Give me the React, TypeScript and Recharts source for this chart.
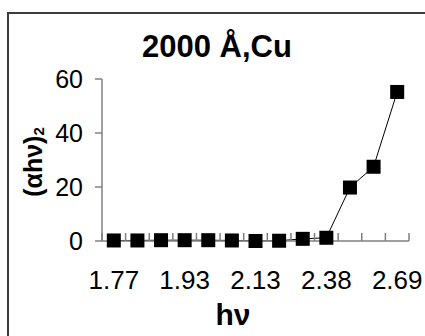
import React from 'react';
import { LineChart, Line, XAxis, YAxis, Label } from 'recharts';

// photon energy categories (eV), one per measured wavelength
const hvLabels = ['1.77', '1.82', '1.87', '1.93', '2.00', '2.06', '2.13', '2.21', '2.29', '2.38', '2.48', '2.58', '2.69'];
// (alpha * h * nu)^2
const alphaHvSq = [0.2, 0.2, 0.3, 0.3, 0.3, 0.2, 0.0, 0.1, 0.8, 1.2, 19.8, 27.5, 55.2];
const yTicks = [0, 20, 40, 60];
const shownLabels = ['1.77', '1.93', '2.13', '2.38', '2.69'];

const CHART_W = 425;
const CHART_H = 322;
const MARGIN = { top: 65, right: 25, bottom: 25, left: 0 };
const Y_AXIS_W = 93;
const X_AXIS_H = 70;
const PLOT_W = CHART_W - MARGIN.left - MARGIN.right - Y_AXIS_W;
const HALF_BAND = PLOT_W / hvLabels.length / 2;
const AXIS_GREY = '#808080';
const FONT = 'Arial, "Liberation Sans", sans-serif';

const data = hvLabels.map((hv, i) => ({ hv, value: alphaHvSq[i] }));

const SquareDot = (props: any) => {
  const { cx, cy, index } = props;
  if (cx == null || cy == null) return <g key={index} />;
  return <rect key={index} x={cx - 7} y={cy - 7} width={14} height={14} fill="#000" />;
};

// Excel style: tick marks sit between categories, labels on every third one
const CategoryTick = (props: any) => {
  const { x, y, payload } = props;
  const idx = payload?.index ?? props.index;
  const isLast = idx === hvLabels.length - 1;
  return (
    <g>
      <line x1={x - HALF_BAND} x2={x - HALF_BAND} y1={y} y2={y - 8} stroke={AXIS_GREY} strokeWidth={1.5} />
      {isLast && (
        <line x1={x + HALF_BAND} x2={x + HALF_BAND} y1={y} y2={y - 8} stroke={AXIS_GREY} strokeWidth={1.5} />
      )}
      {shownLabels.includes(payload.value) && (
        <text x={x} y={y + 48} textAnchor="middle" fontSize={26} fill="#000" fontFamily={FONT}>
          {payload.value}
        </text>
      )}
    </g>
  );
};

const YTitle = () => (
  <text
    x={33}
    y={148}
    transform="rotate(-90, 33, 148)"
    textAnchor="middle"
    fontFamily={FONT}
    fontWeight="bold"
    fontSize={25}
    fill="#000"
  >
    (αhν)<tspan fontSize={15} dy={2}>2</tspan>
  </text>
);

const XTitle = () => (
  <text x={224} y={311} textAnchor="middle" fontFamily={FONT} fontWeight="bold" fontSize={30} fill="#000">
    hν
  </text>
);

export default function App() {
  return (
    <div style={{ position: 'fixed', left: 0, top: 0, width: 425, height: 336, overflow: 'hidden', background: '#fff' }}>
      <div
        style={{
          position: 'absolute',
          left: 7,
          top: 12,
          width: 440,
          height: 360,
          border: '2px solid #3c3c3c',
        }}
      >
        <div style={{ position: 'relative', width: CHART_W, height: CHART_H }}>
          <svg width={CHART_W} height={60} style={{ position: 'absolute', left: 0, top: 0 }}>
            <text x={208} y={43} textAnchor="middle" fontFamily={FONT} fontWeight="bold" fontSize={31} fill="#000">
              2000 Å,Cu
            </text>
          </svg>
          <LineChart width={CHART_W} height={CHART_H} data={data} margin={MARGIN}>
            <XAxis
              dataKey="hv"
              height={X_AXIS_H}
              interval={0}
              padding={{ left: HALF_BAND, right: HALF_BAND }}
              tickSize={0}
              tickMargin={0}
              tickLine={false}
              tick={CategoryTick}
              axisLine={{ stroke: AXIS_GREY, strokeWidth: 1.5 }}
            >
              <Label content={XTitle} />
            </XAxis>
            <YAxis
              width={Y_AXIS_W}
              domain={[0, 60]}
              ticks={yTicks}
              tickSize={7}
              tickMargin={12}
              tick={{ fill: '#000', fontSize: 25, fontFamily: FONT }}
              tickLine={{ stroke: AXIS_GREY, strokeWidth: 1.5 }}
              axisLine={{ stroke: AXIS_GREY, strokeWidth: 1.5 }}
            >
              <Label content={YTitle} />
            </YAxis>
            <Line
              type="linear"
              dataKey="value"
              stroke="#000"
              strokeWidth={1}
              dot={SquareDot}
              activeDot={false}
              isAnimationActive={false}
            />
          </LineChart>
        </div>
      </div>
    </div>
  );
}
